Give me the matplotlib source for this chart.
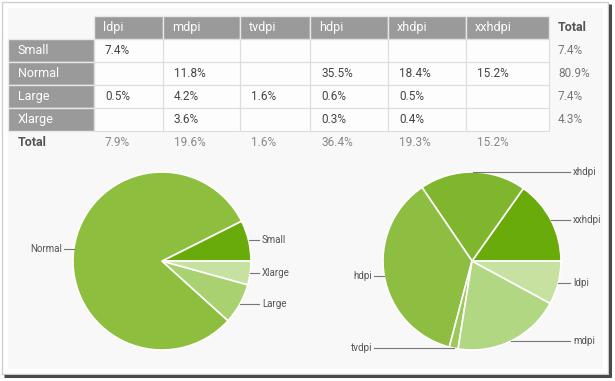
import numpy as np
import matplotlib.pyplot as plt
from matplotlib.patches import Rectangle

plt.rcParams['font.family'] = ['Roboto', 'DejaVu Sans']

# table data
cols = ['ldpi', 'mdpi', 'tvdpi', 'hdpi', 'xhdpi', 'xxhdpi']
rows = ['Small', 'Normal', 'Large', 'Xlarge']
small = [7.4, None, None, None, None, None]
normal = [None, 11.8, None, 35.5, 18.4, 15.2]
large = [0.5, 4.2, 1.6, 0.6, 0.5, None]
xlarge = [None, 3.6, None, 0.3, 0.4, None]
row_totals = [7.4, 80.9, 7.4, 4.3]
col_totals = [7.9, 19.6, 1.6, 36.4, 19.3, 15.2]

# pie data (drawing order, counter-clockwise from 3 o'clock)
size_labels = ['Small', 'Normal', 'Large', 'Xlarge']
size_values = [7.4, 80.9, 7.4, 4.3]
size_colors = ['#6aab0c', '#8dbe3e', '#a9d170', '#c6e1a0']
dens_labels = ['xxhdpi', 'xhdpi', 'hdpi', 'tvdpi', 'mdpi', 'ldpi']
dens_values = [15.2, 19.3, 36.4, 1.6, 19.6, 7.9]
dens_colors = ['#6aab0c', '#80b52e', '#8dbe42', '#9cc957', '#b2d782', '#c6e1a0']

W, H = 615, 381
fig = plt.figure(figsize=(W / 100, H / 100), dpi=100)
ax = fig.add_axes([0, 0, 1, 1])
ax.set_xlim(0, W)
ax.set_ylim(H, 0)
ax.axis('off')

# frame with shadow
ax.add_patch(Rectangle((2, 2), 606, 372, fc='white', ec='#cfcfcf', lw=1))
ax.plot([609.5, 609.5], [4, 376.5], color='#4a4a4a', lw=2.2, solid_capstyle='butt')
ax.plot([4, 610.5], [375.5, 375.5], color='#4a4a4a', lw=2.2, solid_capstyle='butt')
ax.add_patch(Rectangle((8, 8), 595, 361, fc='#f8f8f8', ec='none'))

# table geometry
xe = [94, 163, 240, 310, 388, 466, 549]
ye = [16, 39, 62, 85, 108, 131]
lab_x0 = 8
grey = '#9a9a9a'

ax.add_patch(Rectangle((xe[0], ye[1]), xe[-1] - xe[0], ye[-1] - ye[1], fc='#fdfdfd', ec='none'))
for i, c in enumerate(cols):
    ax.add_patch(Rectangle((xe[i], ye[0]), xe[i + 1] - xe[i], ye[1] - ye[0], fc=grey, ec='#e8e8e8', lw=1))
    ax.text(xe[i] + 9, (ye[0] + ye[1]) / 2, c, color='white', fontsize=9, va='center')
ax.text(558, (ye[0] + ye[1]) / 2, 'Total', color='#555555', fontsize=9, fontweight='bold', va='center')

for j, (r, vals) in enumerate(zip(rows, [small, normal, large, xlarge])):
    y0, y1 = ye[j + 1], ye[j + 2]
    ym = (y0 + y1) / 2
    ax.add_patch(Rectangle((lab_x0, y0), xe[0] - lab_x0, y1 - y0, fc=grey, ec='#e8e8e8', lw=1))
    ax.text(lab_x0 + 10, ym, r, color='white', fontsize=9, va='center')
    for i, v in enumerate(vals):
        ax.add_patch(Rectangle((xe[i], y0), xe[i + 1] - xe[i], y1 - y0, fc='none', ec='#dddddd', lw=0.8))
        if v is not None:
            ax.text(xe[i] + 11, ym, f'{v}%', color='#444444', fontsize=8.5, va='center')
    ax.text(558, ym, f'{row_totals[j]}%', color='#777777', fontsize=8.5, va='center')

ty = 142
ax.text(lab_x0 + 10, ty, 'Total', color='#555555', fontsize=9, fontweight='bold', va='center')
for i, v in enumerate(col_totals):
    ax.text(xe[i] + 11, ty, f'{v}%', color='#888888', fontsize=8.5, va='center')


def draw_pie(values, labels, colors, center, radius, left_x, right_x):
    # y axis is inverted, so clockwise in data = counter-clockwise on screen
    wedges, _ = ax.pie(values, colors=colors, center=center, radius=radius,
                       startangle=0, counterclock=False, frame=True,
                       wedgeprops=dict(ec='white', lw=1.2))
    for w, lab in zip(wedges, labels):
        th = np.deg2rad((w.theta1 + w.theta2) / 2)
        px = center[0] + radius * np.cos(th)
        py = center[1] + radius * np.sin(th)
        if np.cos(th) >= 0:
            ax.plot([px, right_x], [py, py], color='#777777', lw=0.8)
            ax.text(right_x + 3, py, lab, color='#555555', fontsize=7, va='center', ha='left')
        else:
            ax.plot([left_x, px], [py, py], color='#777777', lw=0.8)
            ax.text(left_x - 2, py, lab, color='#555555', fontsize=7, va='center', ha='right')


draw_pie(size_values, size_labels, size_colors, (162, 261), 89, 64, 259)
draw_pie(dens_values, dens_labels, dens_colors, (472, 261), 89, 374, 570)

ax.set_xlim(0, W)
ax.set_ylim(H, 0)
ax.set_aspect('auto')
ax.axis('off')

fig.savefig('out.png', dpi=100)
